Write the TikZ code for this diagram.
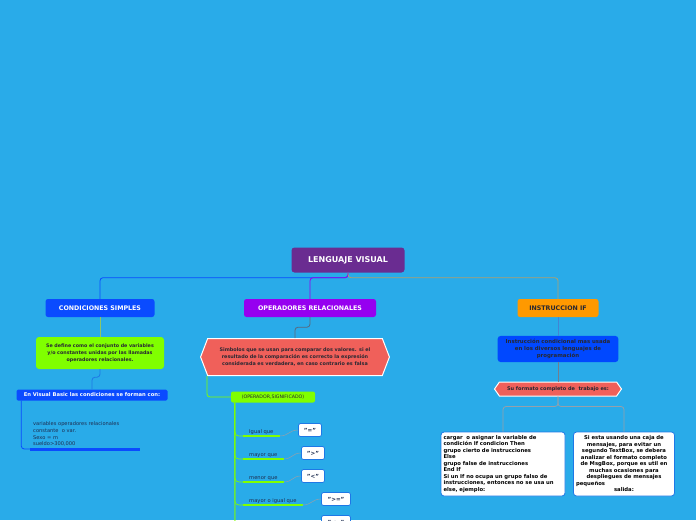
\documentclass[tikz,border=0pt]{standalone}
\usepackage{fontspec}
\setmainfont{DejaVu Sans}
\usetikzlibrary{shapes.symbols, positioning, calc}
\definecolor{fondo}{RGB}{41,171,233}
\definecolor{morado}{RGB}{106,44,145}
\definecolor{azulcond}{RGB}{10,75,255}
\definecolor{violeta}{RGB}{150,0,240}
\definecolor{naranja}{RGB}{255,153,0}
\definecolor{lima}{RGB}{128,255,0}
\definecolor{salmon}{RGB}{240,96,90}
\definecolor{azulif}{RGB}{0,72,255}
\definecolor{caqui}{RGB}{175,160,110}
\definecolor{gris}{RGB}{150,160,170}
\definecolor{oscuro}{RGB}{40,40,50}
\definecolor{marino}{RGB}{30,45,80}
\definecolor{borde}{RGB}{30,120,230}
\tikzset{
  raiz/.style={rectangle, fill=morado, rounded corners=3pt, minimum width=113pt,
               minimum height=25pt, text=white, font=\fontsize{8}{10}\selectfont\bfseries},
  rama/.style={rectangle, rounded corners=2.5pt, minimum height=18pt,
               font=\fontsize{6.3}{8}\selectfont\bfseries},
  nota/.style={rectangle, rounded corners=3pt, align=center, text=oscuro,
               font=\fontsize{4.8}{7}\selectfont\bfseries},
  hexa/.style={signal, signal to=west and east, draw=white, line width=1pt, fill=salmon,
               align=center, text=oscuro, font=\fontsize{4.9}{7}\selectfont\bfseries},
  caja/.style={rectangle, draw=borde, fill=white, rounded corners=3pt, line width=0.8pt,
               inner xsep=2pt, text=black, font=\fontsize{5.3}{6.5}\selectfont\bfseries},
  simbolo/.style={rectangle, draw=borde, fill=white, rounded corners=2pt, line width=0.8pt,
                  minimum height=13pt, text=marino, font=\fontsize{5.6}{7}\selectfont\bfseries},
  item/.style={anchor=south west, inner xsep=6pt, inner ysep=1.5pt, text=marino,
               font=\fontsize{5.2}{6.5}\selectfont},
  conector/.style={rounded corners=3pt, line width=0.8pt},
  barra/.style={lima, line width=2.5pt},
  hilo/.style={gris, line width=0.5pt}
}
\begin{document}
\begin{tikzpicture}[x=1pt, y=-1pt]
  \useasboundingbox (0,0) rectangle (696,520);
  \clip (0,0) rectangle (696,520);
  \fill[fondo] (0,0) rectangle (696,520);

  % ramas principales
  \node[raiz] (raiz) at (348,260) {LENGUAJE VISUAL};
  \node[rama, fill=azulcond, text=white, minimum width=109pt] (cond) at (100,308) {CONDICIONES SIMPLES};
  \node[rama, fill=violeta, text=white, minimum width=132pt] (oper) at (310,308) {OPERADORES RELACIONALES};
  \node[rama, fill=naranja, text=oscuro, minimum width=81pt] (instr) at (558,308) {INSTRUCCION IF};
  \draw[conector, azulcond] (raiz.south) -- ++(0,5) -| (cond.north);
  \draw[conector, violeta]  (raiz.south) -- ++(0,5) -| (oper.north);
  \draw[conector, caqui]    (raiz.south) -- ++(0,5) -| (instr.north);

  % condiciones simples
  \node[nota, fill=lima, minimum width=128pt, minimum height=32pt, text width=120pt] (def) at (100,353)
    {Se define como el conjunto de variables\\ y/o constantes unidas por las llamadas\\ operadores relacionales.};
  \node[rectangle, fill=azulcond, rounded corners=1.5pt, minimum width=151pt, minimum height=11pt,
        inner sep=1pt, text=white, font=\fontsize{5.2}{7}\selectfont\bfseries] (vb) at (92,395)
    {En Visual Basic las condiciones se forman con:};
  \node[anchor=south west, inner xsep=3pt, inner ysep=2.5pt, text width=104pt, align=left, text=marino,
        font=\fontsize{5.1}{6.7}\selectfont] (vars) at (30,449)
    {variables operadores relacionales\\ constante~ o var.\\ Sexo = m\\ sueldo>300,000};
  \draw[conector, gris!60!lima] (cond.south) -- (def.north);
  \draw[conector, borde] (def.south) -- ++(0,8) -| (vb.north);
  \draw[conector, azulcond] ($(vb.south west)+(5,0)$) |- (vars.south west);
  \draw[azulcond, line width=3pt] (vars.south west) -- (vars.south east);

  % operadores relacionales
  \node[hexa, minimum width=185pt, minimum height=37pt, text width=168pt, signal pointer angle=138] (simb) at (295,357)
    {Simbolos que se usan para comparar dos valores. si el\\ resultado de la comparación es correcto la expresión\\ considerada es verdadera, en caso contrario es falsa};
  \node[rectangle, fill=lima, rounded corners=2pt, minimum width=84pt, minimum height=11pt, inner sep=1pt,
        text=oscuro, font=\fontsize{4.7}{6}\selectfont] (opbox) at (273,397) {(OPERADOR,SIGNIFICADO)};
  \draw[conector, gris!50!marino] (oper.south) -- ++(0,10) -| (simb.north);
  \draw[conector, lima] ($(simb.south)+(-88,0)$) |- (opbox.west);

  \coordinate (eje) at ($(opbox.south west)+(4,0)$);
  \coordinate (fin) at (235,525);
  \draw[lima, line width=0.8pt] (eje) -- (fin);

  \node[item] (i1) at (243,436) {Igual que};
  \node[item] (i2) at (243,459) {mayor que};
  \node[item] (i3) at (243,482) {menor que};
  \node[item] (i4) at (243,505) {mayor o igual que};
  \node[item] (i5) at (243,528) {menor o igual que};
  \node[simbolo, minimum width=23pt] (s1) at (310,430) {"="};
  \node[simbolo, minimum width=23pt] (s2) at (313,453) {">"};
  \node[simbolo, minimum width=23pt] (s3) at (313,476) {"<"};
  \node[simbolo, minimum width=29pt] (s4) at (336,499) {">="};
  \node[simbolo, minimum width=29pt] (s5) at (336,522) {"<="};
  \foreach \i in {1,...,5}{
    \draw[lima, line width=0.6pt, rounded corners=4pt] (eje) |- (i\i.south west);
    \draw[barra] (i\i.south west) -- (i\i.south east);
    \draw[hilo] (i\i.south east) .. controls +(9,0) and +(-9,0) .. (s\i.west);
  }

  % instruccion if
  \node[nota, fill=azulif, minimum width=120pt, minimum height=24pt, text width=114pt, text=oscuro,
        font=\fontsize{5.4}{7}\selectfont\bfseries] (cond_if) at (558,349)
    {Instrucción condicional mas usada\\ en los diversos lenguajes de\\ programación};
  \node[hexa, minimum width=127pt, minimum height=14pt, inner ysep=1pt, signal pointer angle=110,
        font=\fontsize{5}{6}\selectfont\bfseries] (fmt) at (558,389) {Su formato completo de~ trabajo es:};
  \draw[conector, borde!70!gris] (instr.south) -- (cond_if.north);
  \draw[conector, gris!70!marino] (cond_if.south) -- (fmt.north);

  \node[caja, minimum width=124pt, minimum height=64pt, text width=119pt, align=left] (sint) at (503,464)
    {cargar~ o asignar la variable de\\ condición If condicion Then\\ grupo cierto de instrucciones\\ Else\\ grupo false de instrucciones\\ End If\\ Si un If no ocupa un grupo falso de\\ instrucciones, entonces no se usa un\\ else, ejemplo:};
  \node[caja, minimum width=101pt, minimum height=64pt, text width=96pt, align=center] (msg) at (624,464)
    {Si esta usando una caja de\\ mensajes, para evitar un\\ segundo TextBox, se debera\\ analizar el formato completo\\ de MsgBox, porque es util en\\ muchas ocasiones para\\ despliegues de mensajes\\ \makebox[96pt][l]{pequeños}\\ salida:};
  \draw[conector, gris] (fmt.south) -- ++(0,10) -| (sint.north);
  \draw[conector, gris] (fmt.south) -- ++(0,10) -| (msg.north);
\end{tikzpicture}
\end{document}
